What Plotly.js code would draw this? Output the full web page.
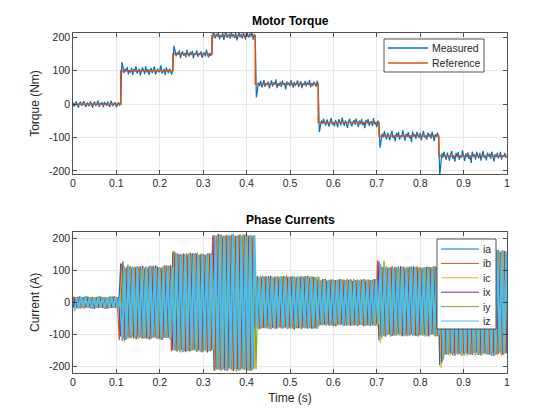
<!DOCTYPE html>
<html>
<head>
<meta charset="utf-8">
<script src="https://cdn.plot.ly/plotly-3.0.1.min.js"></script>
<style>html,body{margin:0;padding:0;background:#fff;}#chart{width:560px;height:420px;}</style>
</head>
<body>
<div id="chart"></div>
<script>
// ---------- data ----------
const torqueStep = 0.0025;                // s between stored torque samples
const currentStep = 0.005;                // s between stored current half-cycle peaks
const stepTimes = [0, 0.11, 0.23, 0.32, 0.42, 0.565, 0.705, 0.843, 1];
const refLevels = [0, 100, 150, 205, 60, -55, -95, -155, -155];
const xTickVals = [0, 0.1, 0.2, 0.3, 0.4, 0.5, 0.6, 0.7, 0.8, 0.9, 1];
const xTickText = ['0', '0.1', '0.2', '0.3', '0.4', '0.5', '0.6', '0.7', '0.8', '0.9', '1'];
const yTickVals = [-200, -100, 0, 100, 200];
const yTickText = ['-200', '-100', '0', '100', '200'];

const measured = [
  5,-7,2,8,-3,-10,3,6,-5,0, 9,-2,-8,5,1,-6,8,-3,-10,3, 6,-5,0,11,-8,3,-2,6,-9,5, 2,-5,8,-3,-8,10,0,-6,3,5, -9,2,6,-3,0,
  126,114,93,106,98,111,89,102,95,109, 87,105,98,113,92,100,106,86,97,110, 102,90,114,95,105,88,100,108,93,103,
  113,89,98,106,95,102,116,92,97,105, 87,110,100,93,106,98,89,102,
  175,162,143,155,148,161,138,152,158,145, 153,140,163,150,143,156,147,160,137,152, 148,161,142,153,147,158,139,150,155,143,
  163,148,140,153,145,152,
  218,212,197,210,203,215,194,207,201,214, 192,208,218,199,205,211,196,216,203,209, 198,213,191,207,216,201,210,196,214,205,
  194,218,207,199,212,203,216,193,209,201,
  20,42,65,55,70,50,62,72,52,63, 57,68,47,60,71,53,65,58,74,48, 62,55,67,52,70,58,63,44,68,57, 65,53,72,60,50,67,55,63,71,52,
  60,68,48,62,57,70,53,65,58,73, 50,63,55,67,60,52,70,58,
  -84,-68,-49,-59,-44,-56,-64,-46,-58,-67, -51,-42,-61,-55,-66,-47,-58,-69,-45,-56, -63,-40,-53,-64,-49,-59,-71,-51,-44,-58,
  -66,-55,-47,-61,-43,-56,-68,-49,-60,-45, -63,-53,-72,-47,-58,-44,-65,-55,-51,-66, -42,-60,-56,-69,-49,-58,
  -130,-110,-88,-99,-81,-96,-105,-85,-97,-108, -90,-80,-101,-95,-111,-86,-98,-83,-106,-93, -99,-78,-96,-109,-88,-98,-84,-102,-95,-114,
  -82,-97,-90,-104,-83,-96,-101,-86,-108,-93, -80,-99,-95,-106,-85,-97,-89,-103,-82,-96, -111,-90,-98,-85,-101,
  -215,-178,-147,-160,-142,-156,-166,-145,-157,-169, -150,-140,-163,-155,-172,-146,-159,-143,-167,-153, -160,-138,-156,-170,-148,-159,-144,-164,-155,-176,
  -142,-157,-150,-166,-143,-156,-162,-146,-169,-153, -140,-160,-155,-168,-145,-157,-148,-164,-142,-156, -172,-150,-159,-145,-162,-155,-143,-166,-153,-157,
  -146,-160,-156
];

// phase currents: successive half-cycle peaks (A)
const ia = [
  17,-16,18,-17,16,-18,19,-15,17,-18,16,-17,18,-16,17,-19,15,-17,18,-16,17,-18,
  122,-115,108,
  -104,112,-109,106,-113,110,-107,115,-111,108,-114,112,-109,116,-112,110,-117,113,-110,115,-112,
  158,-149,152,-147,150,-153,148,-151,155,-148,150,-154,147,-152,151,-149,153,-150,148,
  -212,208,-206,211,-209,205,-213,210,-207,212,-204,209,-211,206,-208,213,-210,207,-209,
  82,-79,77,-81,80,-78,83,-80,76,-82,79,-77,81,-80,78,-83,80,-76,82,-79,77,-81,80,-78,83,-80,76,-82,79,
  -72,68,-70,73,-67,71,-69,72,-74,68,-70,71,-73,69,-68,72,-71,70,-73,67,-69,72,-70,68,-74,71,-69,73,
  -118,112,-103,108,-99,111,-105,107,-101,113,-98,109,-104,106,-102,112,-100,108,-106,110,-97,109,-103,111,-100,107,-105,112,
  -196,163,-158,160,-162,157,-165,161,-159,164,-156,162,-160,158,-163,166,-157,161,-164,159,-158,163,-161,157,-166,160,-159,164,-155,162,-160,158
];
const ib = [
  -16,18,-17,15,-19,17,-16,18,-15,17,-18,16,-17,19,-16,15,-18,17,-16,18,-17,16,
  -118,121,-112,
  108,-111,114,-106,109,-115,111,-108,113,-110,106,-116,112,-109,114,-111,108,-115,117,-110,113,
  -152,160,-148,153,-156,149,-151,154,-147,152,-150,155,-153,148,-156,151,-149,154,-152,
  209,-214,207,-210,212,-206,209,-212,205,-211,208,-215,210,-207,212,-209,206,-213,208,
  -84,78,-80,82,-77,80,-81,79,-83,77,-80,82,-78,81,-79,84,-77,80,-82,78,-81,79,-83,80,-77,82,-79,81,-80,
  70,-73,69,-71,74,-68,70,-72,69,-73,71,-67,72,-70,74,-69,71,-72,68,-74,70,-71,73,-69,72,-70,67,-73,
  132,-108,110,-102,114,-99,108,-104,111,-100,106,-105,113,-98,109,-103,107,-101,112,-99,110,-104,108,-102,111,-100,114,-106,
  158,-172,161,-164,157,-160,163,-158,165,-162,159,-167,160,-157,164,-161,158,-165,162,-159,166,-160,157,-163,161,-158,164,-162,159,-165,160,-157
];
const ic = [
  18,-17,16,-18,17,-15,18,-17,19,-16,17,-18,15,-17,18,-16,19,-17,16,-18,17,-16,
  110,-124,104,
  -113,107,-110,112,-106,109,-115,111,-108,114,-112,107,-110,113,-116,109,-111,114,-108,112,-115,
  162,-154,149,-151,153,-147,150,-155,152,-149,148,-152,154,-150,149,-155,152,-148,151,
  -208,215,-211,207,-205,213,-209,206,-214,208,-210,211,-206,214,-209,207,-212,210,-206,
  79,-86,81,-78,84,-80,77,-82,80,-79,83,-78,80,-81,77,-80,82,-84,79,-77,81,-80,78,-82,84,-79,80,-78,82,
  -74,71,-68,70,-72,73,-70,69,-71,74,-68,72,-70,71,-74,68,-72,69,-70,73,-71,68,-73,70,-69,74,-72,70,
  -126,109,-105,112,-101,107,-99,113,-104,108,-102,110,-106,111,-97,108,-105,114,-100,107,-103,110,-108,109,-99,112,-104,108,
  -205,160,-163,158,-167,162,-157,165,-160,159,-164,161,-168,157,-159,163,-162,160,-156,165,-163,158,-160,164,-157,161,-165,159,-162,163,-158,161
];
const ix = [
  -17,16,-18,19,-16,17,-15,18,-17,16,-19,17,-16,18,-17,15,-18,16,-17,19,-16,17,
  -106,128,-117,
  114,-109,107,-112,110,-108,113,-111,106,-114,109,-112,115,-107,111,-113,108,-110,114,-109,116,
  -149,156,-152,150,-148,153,-155,149,-151,154,-147,152,-149,150,-153,148,-156,152,-150,
  211,-207,213,-209,206,-212,208,-205,211,-214,207,-209,212,-206,210,-213,208,-211,205,
  -78,83,-82,79,-80,81,-77,84,-79,80,-82,78,-81,83,-77,80,-79,82,-84,78,-80,81,-78,83,-80,77,-82,80,-79,
  71,-70,73,-69,68,-72,71,-74,70,-68,73,-71,69,-72,70,-73,67,-70,72,-69,71,-74,68,-72,70,-71,73,-68,
  128,-104,111,-107,106,-100,112,-103,109,-98,114,-105,107,-101,110,-99,113,-104,108,-102,106,-100,111,-105,109,-98,112,-103,
  164,-188,159,-162,165,-158,161,-166,157,-160,163,-159,166,-161,158,-164,162,-157,160,-165,163,-158,161,-162,159,-167,164,-160,157,-163,161,-159
];
const iy = [
  16,-18,17,-16,18,-17,15,-19,17,-16,18,-15,17,-18,16,-17,19,-16,18,-17,15,-18,
  114,-110,119,
  -110,113,-108,111,-114,107,-112,110,-109,115,-107,111,-113,108,-115,112,-109,116,-111,107,-113,
  155,-151,147,-154,151,-149,153,-152,148,-150,156,-147,151,-153,149,-151,154,-148,150,
  -210,206,-213,209,-207,211,-205,214,-209,207,-212,206,-210,213,-207,209,-214,211,-208,
  80,-81,84,-77,79,-82,80,-79,82,-78,77,-81,83,-79,80,-82,78,-80,81,-77,83,-79,80,-82,78,-81,79,-83,81,
  -69,72,-71,68,-73,70,-72,69,-70,73,-67,71,-72,70,-69,74,-70,71,-68,72,-73,69,-71,70,-72,68,-74,71,
  -112,130,-101,109,-106,112,-99,107,-103,111,-100,108,-105,113,-98,106,-104,110,-101,109,-107,112,-99,108,-102,111,-106,109,
  -182,162,-159,165,-161,158,-164,160,-157,163,-166,159,-161,164,-158,160,-163,157,-165,161,-159,166,-162,158,-160,163,-157,161,-164,159,-161,162
];
const iz = [
  -28,17,-16,18,-17,19,-16,17,-18,15,-17,18,-16,17,-19,16,-17,18,-15,17,-18,16,
  -120,113,-116,
  109,-112,111,-107,114,-110,108,-113,112,-109,115,-111,107,-114,110,-112,113,-108,111,-116,110,
  -150,154,-148,152,-155,149,-152,151,-148,153,-150,149,-154,152,-147,150,-152,155,-149,
  207,-210,212,-208,209,-211,206,-209,213,-207,210,-212,208,-210,206,-212,211,-207,210,
  -81,79,-78,82,-80,78,-83,81,-79,80,-77,82,-80,79,-82,78,-81,80,-78,83,-79,80,-81,78,-80,82,-77,79,-81,
  72,-71,70,-73,69,-70,72,-68,71,-72,70,-73,68,-71,73,-70,69,-72,71,-69,70,-73,72,-70,68,-71,73,-69,
  120,-106,108,-102,111,-100,107,-104,110,-99,109,-103,112,-101,106,-105,111,-98,108,-102,110,-104,107,-100,112,-103,109,-101,
  160,-178,158,-161,163,-159,162,-157,160,-164,158,-160,162,-163,159,-158,164,-161,157,-160,163,-162,158,-159,161,-164,160,-157,162,-161,159,-160
];
const phaseNames = ['ia', 'ib', 'ic', 'ix', 'iy', 'iz'];
const phaseData = [ia, ib, ic, ix, iy, iz];
const phaseStart = [0, -0.00333, 0.00333, 0, 0.00667, 0.00333]; // s, time of first stored peak
const torqueNames = ['Measured', 'Reference'];

// ---------- styling ----------
const colors = ['#0072BD', '#D95319', '#EDB120', '#7E2F8E', '#77AC30', '#4DBEEE'];
const phaseWidths = [1.2, 1.2, 1.2, 1.2, 1.2, 1.8];
const FONT = 'Liberation Sans, Arial, Helvetica, sans-serif';
const INK = '#262626';
const W = 560, H = 420, ML = 73, MR = 53, MT = 33, MB = 47;
const PW = W - ML - MR, PH = H - MT - MB;
const px = v => (v - ML) / PW;          // pixel -> paper x
const py = v => (H - MB - v) / PH;      // pixel -> paper y

const traces = [
  { x0: 0, dx: torqueStep, y: measured, type: 'scatter', mode: 'lines', name: torqueNames[0],
    xaxis: 'x', yaxis: 'y', line: { color: colors[0], width: 1.2 } },
  { x: stepTimes, y: refLevels, type: 'scatter', mode: 'lines', name: torqueNames[1],
    xaxis: 'x', yaxis: 'y', line: { color: colors[1], width: 1.5, shape: 'hv' } }
];
phaseData.forEach((d, k) => {
  traces.push({ x0: phaseStart[k], dx: currentStep, y: d, type: 'scatter', mode: 'lines',
    name: phaseNames[k], xaxis: 'x2', yaxis: 'y2', line: { color: colors[k], width: phaseWidths[k] } });
});

function xax(anchor, extra) {
  return Object.assign({
    anchor: anchor, domain: [0, 1], range: [0, 1],
    tickvals: xTickVals, ticktext: xTickText,
    ticks: 'inside', ticklen: 4, tickcolor: INK, tickwidth: 0.8,
    showline: true, linecolor: INK, linewidth: 0.8, mirror: 'ticks',
    showgrid: true, gridcolor: '#E3E3E3', gridwidth: 0.8, zeroline: false,
    tickfont: { family: FONT, size: 10.5, color: INK }, fixedrange: true
  }, extra || {});
}
function yax(anchor, domain, range, title) {
  return {
    anchor: anchor, domain: domain, range: range,
    tickvals: yTickVals, ticktext: yTickText,
    ticks: 'inside', ticklen: 4, tickcolor: INK, tickwidth: 0.8,
    showline: true, linecolor: INK, linewidth: 0.8, mirror: 'ticks',
    showgrid: true, gridcolor: '#E3E3E3', gridwidth: 0.8, zeroline: false,
    tickfont: { family: FONT, size: 10.5, color: INK },
    title: { text: title, font: { family: FONT, size: 12, color: INK }, standoff: 6 },
    fixedrange: true
  };
}

// legend boxes drawn as shapes + text (MATLAB-style compact spacing)
const shapes = [], annotations = [];
function addLegend(names, cols, widths, box, y0, dy, lineX0, lineX1, textX) {
  shapes.push({ type: 'rect', xref: 'paper', yref: 'paper',
    x0: px(box[0]), x1: px(box[2]), y0: py(box[1]), y1: py(box[3]),
    line: { color: INK, width: 0.8 }, fillcolor: '#ffffff', layer: 'above' });
  names.forEach((n, i) => {
    const yy = py(y0 + i * dy);
    shapes.push({ type: 'line', xref: 'paper', yref: 'paper',
      x0: px(lineX0), x1: px(lineX1), y0: yy, y1: yy,
      line: { color: cols[i], width: widths[i] }, layer: 'above' });
    annotations.push({ text: n, xref: 'paper', yref: 'paper', x: px(textX), y: yy,
      xanchor: 'left', yanchor: 'middle', showarrow: false,
      font: { family: FONT, size: 10.5, color: INK } });
  });
}
addLegend(torqueNames, [colors[0], colors[1]], [1.5, 1.5], [384, 39, 484, 72], 48, 15, 388, 428, 430);
addLegend(phaseNames, colors, [1, 1, 1, 1, 1, 1], [437, 239, 496, 329], 249, 14.4, 441, 479, 481);

annotations.push(
  { text: '<b>Motor Torque</b>', xref: 'paper', yref: 'paper', x: 0.5, y: py(21),
    xanchor: 'center', yanchor: 'middle', showarrow: false,
    font: { family: FONT, size: 12, color: '#000' } },
  { text: '<b>Phase Currents</b>', xref: 'paper', yref: 'paper', x: 0.5, y: py(220),
    xanchor: 'center', yanchor: 'middle', showarrow: false,
    font: { family: FONT, size: 12, color: '#000' } }
);

const layout = {
  width: W, height: H,
  margin: { l: ML, r: MR, t: MT, b: MB },
  paper_bgcolor: '#ffffff', plot_bgcolor: '#ffffff',
  font: { family: FONT, color: INK },
  showlegend: false,
  xaxis: xax('y'),
  yaxis: yax('x', [py(174), 1], [-209, 213], 'Torque (Nm)'),
  xaxis2: xax('y2', { title: { text: 'Time (s)', font: { family: FONT, size: 12, color: INK }, standoff: 6 } }),
  yaxis2: yax('x2', [0, py(231.7)], [-220, 221], 'Current (A)'),
  shapes: shapes,
  annotations: annotations
};

Plotly.newPlot('chart', traces, layout, { staticPlot: true, displayModeBar: false });
</script>
</body>
</html>
